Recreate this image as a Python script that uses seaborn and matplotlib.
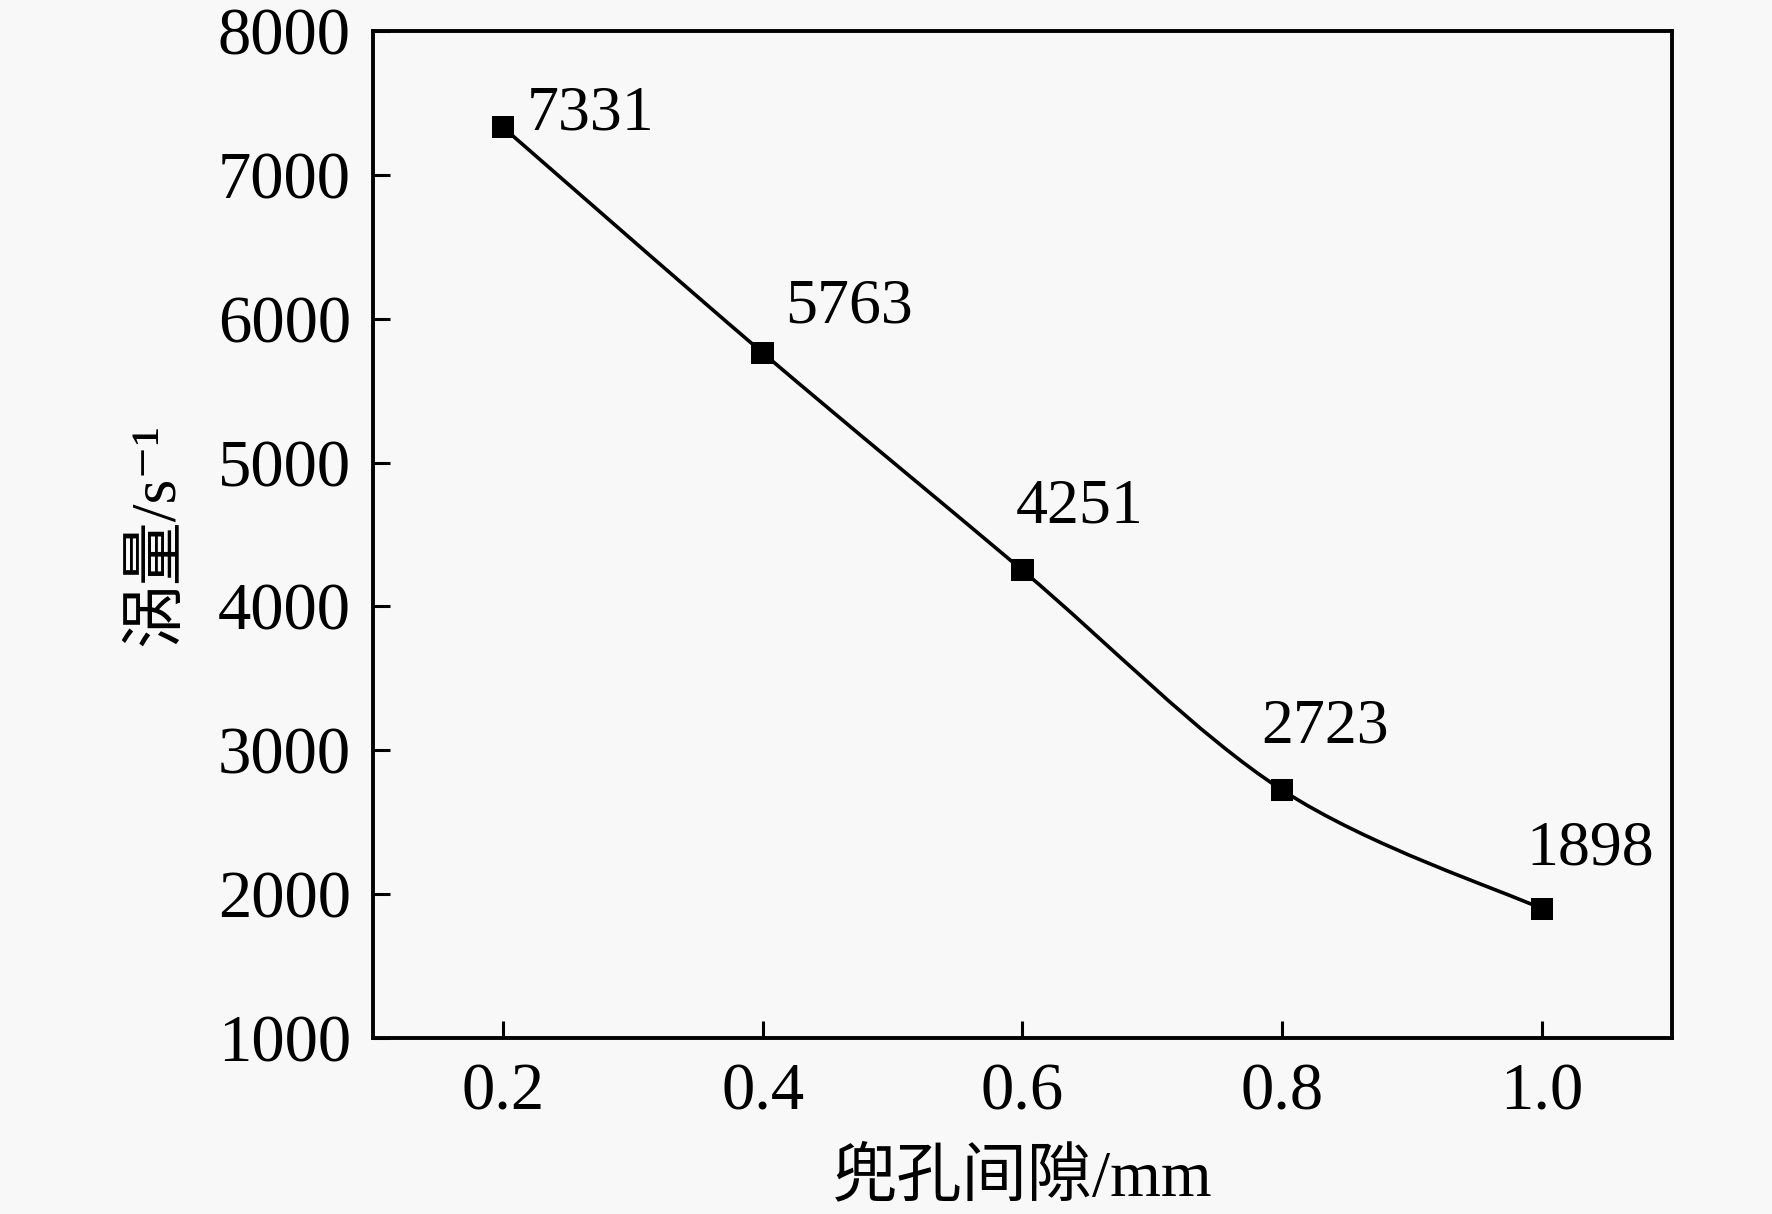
import numpy as np
import pandas as pd
import seaborn as sns
import matplotlib.pyplot as plt
from matplotlib.path import Path
from matplotlib.patches import PathPatch

# data
gap_mm = [0.2, 0.4, 0.6, 0.8, 1.0]
vorticity = [7331, 5763, 4251, 2723, 1898]
point_labels = ['7331', '5763', '4251', '2723', '1898']
xticks = [0.2, 0.4, 0.6, 0.8, 1.0]
yticks = [1000, 2000, 3000, 4000, 5000, 6000, 7000, 8000]

# label offsets (points) from each marker
label_offsets = [(17, -12), (16, 12), (-5, 24), (-15, 24), (-11, 22)]

df = pd.DataFrame({'gap': gap_mm, 'vort': vorticity})

sns.set_theme(style='ticks')
plt.rcParams['font.family'] = ['Liberation Serif', 'Noto Sans CJK SC', 'DejaVu Serif']
plt.rcParams['axes.unicode_minus'] = True

bg = '#f8f8f8'
fig = plt.figure(figsize=(17.72, 12.14), dpi=100, facecolor=bg)
ax = fig.add_axes([0.2105, 0.145, 0.733, 0.8295])
ax.set_facecolor(bg)

# smooth curve through the points (Catmull-Rom as cubic Bezier segments)
pts = df[['gap', 'vort']].to_numpy(dtype=float)
ext = np.vstack([pts[0], pts, pts[-1]])
verts = [tuple(pts[0])]
codes = [Path.MOVETO]
for i in range(1, len(ext) - 2):
    p0, p1, p2, p3 = ext[i - 1], ext[i], ext[i + 1], ext[i + 2]
    c1 = p1 + (p2 - p0) / 6.0
    c2 = p2 - (p3 - p1) / 6.0
    verts += [tuple(c1), tuple(c2), tuple(p2)]
    codes += [Path.CURVE4] * 3
ax.add_patch(PathPatch(Path(verts, codes), fill=False, edgecolor='black', lw=2.6, zorder=2))

sns.scatterplot(data=df, x='gap', y='vort', marker='s', s=260, color='black',
                edgecolor='none', ax=ax, zorder=3, legend=False)

for x, y, txt, off in zip(gap_mm, vorticity, point_labels, label_offsets):
    ax.annotate(txt, (x, y), xytext=off, textcoords='offset points',
                fontsize=46, ha='left', va='bottom', color='black')

ax.set_xlim(0.1, 1.1)
ax.set_ylim(1000, 8000)
ax.set_xticks(xticks)
ax.set_xticklabels([f'{t:.1f}' for t in xticks])
ax.set_yticks(yticks)

for s in ax.spines.values():
    s.set_linewidth(2.8)
    s.set_color('black')
ax.tick_params(axis='both', direction='in', length=12, width=2.2, labelsize=48,
               colors='black', top=False, right=False)
ax.tick_params(axis='y', pad=16)
ax.tick_params(axis='x', pad=18)

ax.set_xlabel('兜孔间隙/mm', fontsize=47, labelpad=18, color='black')
ax.set_ylabel('涡量/s⁻¹', fontsize=46, labelpad=22, color='black')

fig.savefig('out.png', dpi=100, facecolor=bg)
